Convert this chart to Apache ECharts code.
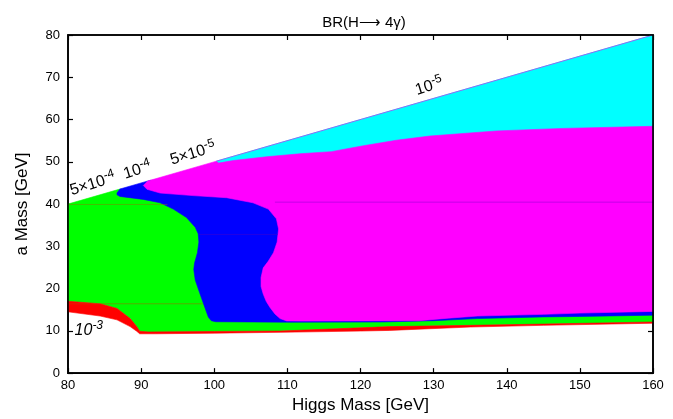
<!DOCTYPE html>
<html><head><meta charset="utf-8">
<script src="https://cdn.jsdelivr.net/npm/echarts@6/dist/echarts.min.js"></script>
<style>html,body{margin:0;padding:0;background:#fff}#c{width:673px;height:419px}</style>
</head><body><div id="c"></div>
<script>
// ---- data (Higgs mass [GeV], a mass [GeV]) ----
const xRange = [80, 160];
const yRange = [0, 80];

// BR 1e-5 .. 5e-5 region (cyan)
const cyanRegion = [[100.3,50.15],[160,80],[160,55],[100.3,49.6]];

// BR 5e-4 .. 1e-3 region (green), lower part hidden by the red band
const greenRegion = [[80,40],[87.1,43.55],[92,42],[100,38],[103,25],[112,16],[160,16],[160,12.1],
  [145,11.6],[135,11.3],[124,11.0],[109,9.95],[100,9.85],[91,9.75],[89.8,9.9],[89.4,11.0],
  [88.5,12.9],[86.7,15.3],[84.4,16.4],[80,17.0]];

// BR 1e-4 .. 5e-4 region (blue)
const blueRegion = [[86.7,42.6],[87.1,43.55],[91.2,45.6],[100,46],[115,40],[115,20],[160,20],
  [160,13.7],[150,13.4],[145,13.3],[136,12.9],[130,12.4],[123,12.1],[110,12.05],[100.2,12.15],
  [99.6,12.4],[99.2,13.2],[98.7,15.6],[98.0,19.0],[97.4,22.0],[97.2,24.5],[97.3,26.0],
  [97.7,28.5],[97.9,31.0],[97.8,33.0],[97.4,34.5],[96.2,36.8],[94.4,38.8],[92.6,40.3],
  [90.3,41.1],[87.1,41.8],[86.7,42.2]];

// BR 5e-5 .. 1e-4 region (magenta)
const magentaRegion = [[90.3,44.4],[90.9,45.45],[100.3,50.15],[100.6,49.7],[102.6,50.3],
  [107.2,51.2],[111.7,51.9],[116,52.4],[120.4,53.8],[124.9,55.1],[129.5,56.1],[138.6,57.3],
  [147.7,57.9],[160,58.4],[160,14.6],[150,14.2],[145,13.9],[136,13.5],[132,13.0],[128,12.4],
  [120,12.35],[112,12.3],[109.9,12.35],[109.0,12.9],[108.3,14.0],[107.6,15.6],[107.1,17.0],
  [106.7,18.7],[106.4,20.5],[106.4,22.6],[106.7,24.9],[107.4,26.5],[108.1,28.5],[108.6,31.0],
  [108.8,34.1],[108.5,36.5],[107.4,38.8],[105.3,40.3],[101.7,41.5],[97.1,42.0],[92.6,42.6],
  [90.8,43.5]];

// BR > 1e-3 band (red)
const redTop = [[80,17.0],[84.4,16.4],[86.7,15.3],[88.5,12.9],[89.4,11.0],[89.8,9.9],[91,9.75],
  [100,9.85],[109,9.95],[124,11.0],[135,11.3],[145,11.6],[160,12.1]];
const redBottom = [[80,14.5],[84.4,13.5],[86.7,12.6],[88.5,11.0],[89.4,9.9],[89.8,9.3],[92,9.3],
  [100,9.45],[109,9.65],[120,9.95],[124,10.1],[135,10.9],[145,11.3],[160,11.8]];

// kinematic edge m_a = m_H / 2 (drawn edge on the cyan part)
const edgeLine = [[100.3,50.15],[160,80]];

// faint rendering seams visible in the picture
const seamGreen40 = [[80,39.9],[93.6,39.9]];
const seamMagenta40 = [[108.3,40.45],[160,40.45]];
const seamGreen16 = [[80,16.4],[98.4,16.4]];
const seamBlue33 = [[97.9,32.8],[108.7,32.8]];

// contour labels: text and anchor point
const labelTexts = ['5×10{s|-4}', '10{s|-4}', '5×10{s|-5}', '10{s|-5}', '10{s|-3}'];
const labelAnchors = [[83.4,44.7],[89.5,48.0],[97.1,51.9],[129.4,67.8],[80.9,10.1]];

const titleText = 'BR(H\u27F6 4\u03B3)';
const xName = 'Higgs Mass [GeV]';
const yName = 'a Mass [GeV]';

// ---- chart ----
const FONT = '"Liberation Sans", Arial, Helvetica, sans-serif';
const chart = echarts.init(document.getElementById('c'), null, {renderer: 'canvas'});

function region(pts, color, z) {
  return {
    type: 'custom', coordinateSystem: 'cartesian2d', data: pts, z: z, silent: true,
    encode: {x: 0, y: 1},
    renderItem: function (params, api) {
      if (params.dataIndex !== 0) return null;
      return {type: 'polygon', shape: {points: pts.map(function (p) { return api.coord(p); })},
        style: {fill: color, stroke: color, lineWidth: 0.6}};
    }
  };
}
function seam(pts, color) {
  return {type: 'line', data: pts, symbol: 'none', silent: true, z: 7,
    lineStyle: {color: color, width: 1}};
}
const redRegion = redTop.concat(redBottom.slice().reverse());

const axisCommon = {
  type: 'value', splitLine: {show: false},
  axisLine: {show: true, onZero: false, lineStyle: {color: '#000', width: 1.6}},
  axisTick: {show: true, inside: true, length: 5, lineStyle: {color: '#000', width: 1.2}}
};

chart.setOption({
  animation: false,
  backgroundColor: '#fff',
  title: {text: titleText, left: 359, top: 10, textAlign: 'center',
    textStyle: {fontFamily: FONT, fontSize: 15, fontWeight: 'normal', color: '#000'}},
  grid: {left: 68, right: 20, top: 35, bottom: 38, show: true, borderColor: '#000',
    borderWidth: 1.6, backgroundColor: 'rgba(0,0,0,0)', z: 10},
  xAxis: [
    Object.assign({}, axisCommon, {position: 'bottom', min: xRange[0], max: xRange[1], interval: 10,
      axisLabel: {color: '#000', fontSize: 13, fontFamily: FONT, margin: 6},
      name: xName, nameLocation: 'middle', nameGap: 20,
      nameTextStyle: {fontSize: 17, fontFamily: FONT, color: '#000'}}),
    Object.assign({}, axisCommon, {position: 'top', min: xRange[0], max: xRange[1], interval: 10,
      axisLabel: {show: false}})
  ],
  yAxis: [
    Object.assign({}, axisCommon, {position: 'left', min: yRange[0], max: yRange[1], interval: 10,
      axisLabel: {color: '#000', fontSize: 13, fontFamily: FONT, margin: 8},
      name: yName, nameLocation: 'middle', nameGap: 37,
      nameTextStyle: {fontSize: 17, fontFamily: FONT, color: '#000'}}),
    Object.assign({}, axisCommon, {position: 'right', min: yRange[0], max: yRange[1], interval: 10,
      axisLabel: {show: false}})
  ],
  series: [
    region(cyanRegion, '#00ffff', 2),
    region(greenRegion, '#00ff00', 3),
    region(blueRegion, '#0000ff', 4),
    region(magentaRegion, '#ff00ff', 5),
    region(redRegion, '#ff0000', 6),
    seam(seamGreen40, 'rgba(150,110,0,0.45)'),
    seam(seamMagenta40, 'rgba(150,0,210,0.55)'),
    seam(seamGreen16, 'rgba(190,70,0,0.45)'),
    seam(seamBlue33, 'rgba(70,0,200,0.45)'),
    {type: 'line', data: edgeLine, symbol: 'none', silent: true, z: 8,
      lineStyle: {color: '#8a6cf5', width: 1}},
    {
      type: 'custom', coordinateSystem: 'cartesian2d', silent: true, z: 9,
      data: labelAnchors, encode: {x: 0, y: 1},
      renderItem: function (params, api) {
        const i = params.dataIndex;
        const c = api.coord(labelAnchors[i]);
        const isLow = i === labelAnchors.length - 1;
        return {
          type: 'text', x: c[0], y: c[1], rotation: isLow ? 0 : 0.3,
          style: {
            text: labelTexts[i], fill: '#000',
            fontFamily: FONT, fontSize: 16,
            fontStyle: isLow ? 'italic' : 'normal',
            align: isLow ? 'left' : 'center', verticalAlign: 'middle',
            rich: {s: {fontSize: 12, fontFamily: FONT, fill: '#000',
              fontStyle: isLow ? 'italic' : 'normal', verticalAlign: 'top', lineHeight: 21}}
          }
        };
      }
    }
  ]
});
</script>
</body></html>
